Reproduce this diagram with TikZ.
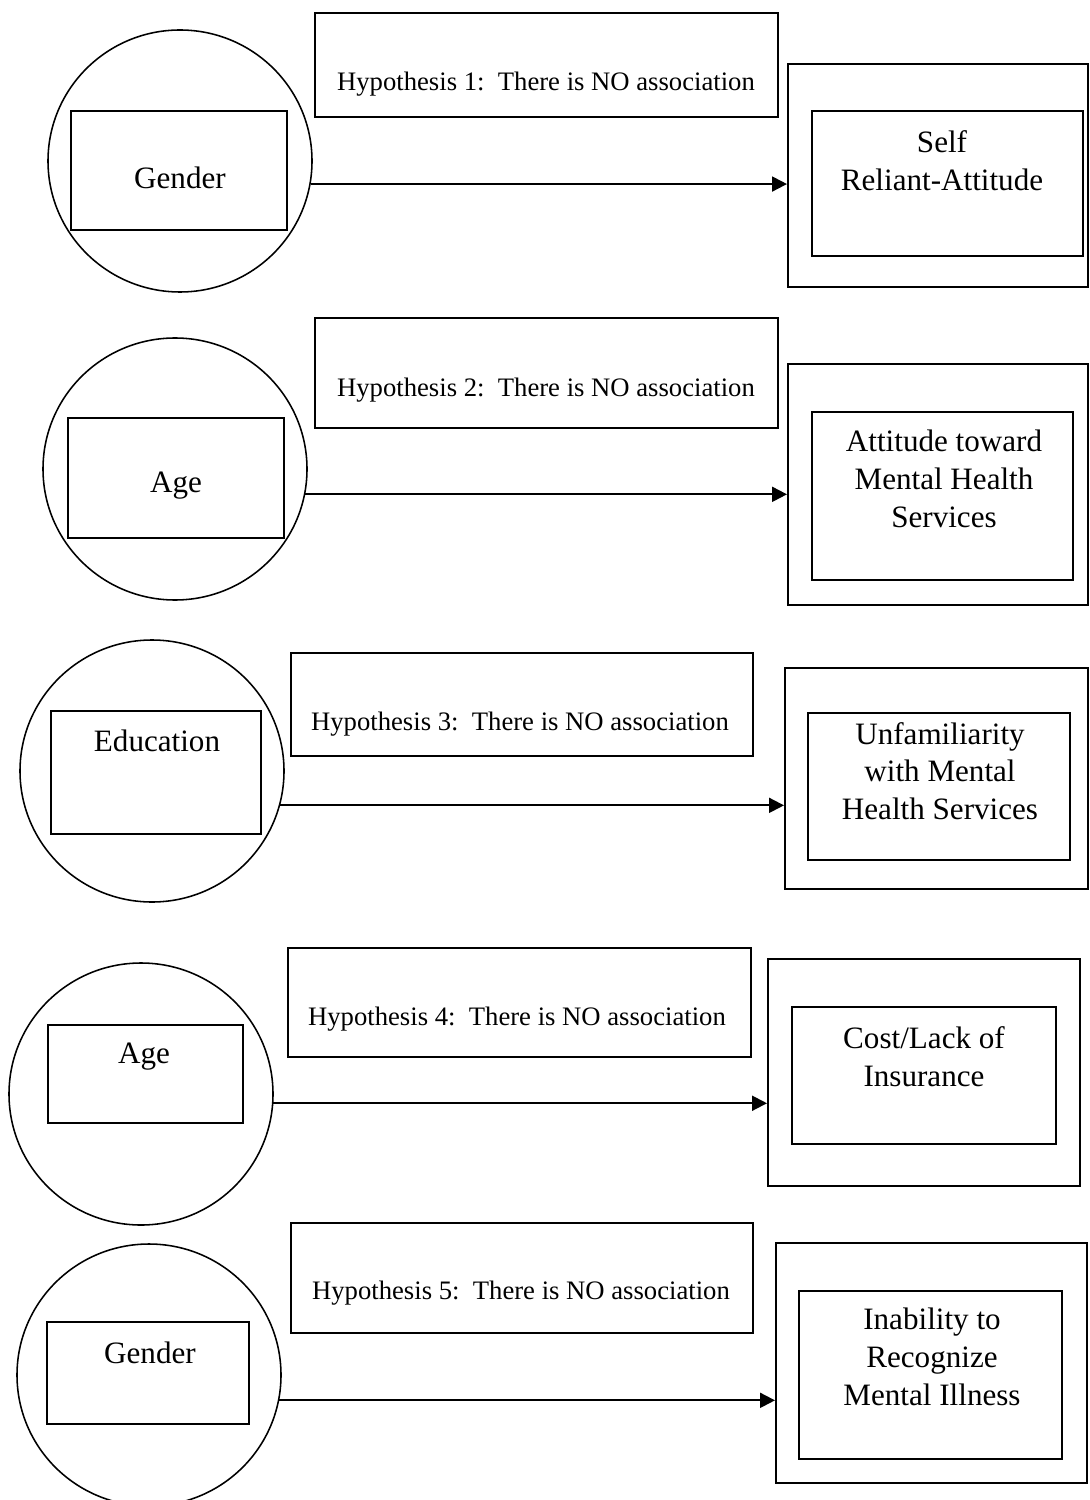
\documentclass[tikz,border=0pt]{standalone}
\usepackage{fontspec}
\setmainfont{Liberation Serif}
\usetikzlibrary{shapes.geometric,arrows.meta,fit}
\begin{document}
\begin{tikzpicture}[x=0.45pt,y=-0.45pt,
  box/.style={draw,line width=0.9pt,inner sep=0pt},
  oval/.style={draw,ellipse,line width=0.7pt,inner sep=0pt,minimum width={264*0.45pt},minimum height={262*0.45pt}},
  hyp/.style={font=\fontsize{12}{14}\selectfont,inner sep=0pt},
  lbl/.style={font=\fontsize{14}{17}\selectfont,align=center,inner sep=0pt},
  arr/.style={line width=0.9pt,-{Triangle[length=6.75pt,width=6.75pt]}}]
\useasboundingbox (0,0) rectangle (1090,1500);

% ---------- Group 1 ----------
\node[oval] (e1) at (180,161) {};
\node[box,fit={(71,111) (287,230)}] (l1) {};
\node[lbl] (lt1) at (180,178) {Gender};
\node[box,fit={(315,13) (778,117)}] (h1) {};
\node[hyp] (ht1) at (546,84) {Hypothesis 1:\ \ There is NO association};
\node[box,fit={(788,64) (1088,287)}] (o1) {};
\node[box,fit={(812,111) (1083,256)}] (i1) {};
\node[lbl] (it1) at (942,161) {Self\\Reliant-Attitude};
\draw[arr] (e1.-10.6) -- (o1.west |- e1.-10.6);

% ---------- Group 2 ----------
\node[oval] (e2) at (175,469) {};
\node[box,fit={(68,418) (284,538)}] (l2) {};
\node[lbl] (lt2) at (176,486) {Age};
\node[box,fit={(315,318) (778,428)}] (h2) {};
\node[hyp] (ht2) at (546,390) {Hypothesis 2:\ \ There is NO association};
\node[box,fit={(788,364) (1088,605)}] (o2) {};
\node[box,fit={(812,412) (1073,580)}] (i2) {};
\node[lbl] (it2) at (944,479) {Attitude toward\\Mental Health\\Services};
\draw[arr] (e2.-11) -- (o2.west |- e2.-11);

% ---------- Group 3 ----------
\node[oval] (e3) at (152,771) {};
\node[box,fit={(51,711) (261,834)}] (l3) {};
\node[lbl] (lt3) at (157,741) {Education};
\node[box,fit={(291,653) (753,756)}] (h3) {};
\node[hyp] (ht3) at (520,724) {Hypothesis 3:\ \ There is NO association};
\node[box,fit={(785,668) (1088,889)}] (o3) {};
\node[box,fit={(808,713) (1070,860)}] (i3) {};
\node[lbl] (it3) at (940,771) {Unfamiliarity\\with Mental\\Health Services};
\draw[arr] (e3.-15.7) -- (o3.west |- e3.-15.7);

% ---------- Group 4 ----------
\node[oval] (e4) at (141,1094) {};
\node[box,fit={(48,1025) (243,1123)}] (l4) {};
\node[lbl] (lt4) at (144,1057) {Age};
\node[box,fit={(288,948) (751,1057)}] (h4) {};
\node[hyp] (ht4) at (517,1019) {Hypothesis 4:\ \ There is NO association};
\node[box,fit={(768,959) (1080,1186)}] (o4) {};
\node[box,fit={(792,1007) (1056,1144)}] (i4) {};
\node[lbl] (it4) at (924,1057) {Cost/Lack of\\Insurance};
\draw[arr] (e4.-4.8) -- (o4.west |- e4.-4.8);

% ---------- Group 5 ----------
\node[oval] (e5) at (149,1375) {};
\node[box,fit={(47,1322) (249,1424)}] (l5) {};
\node[lbl] (lt5) at (150,1353) {Gender};
\node[box,fit={(291,1223) (753,1333)}] (h5) {};
\node[hyp] (ht5) at (521,1293) {Hypothesis 5:\ \ There is NO association};
\node[box,fit={(776,1243) (1087,1483)}] (o5) {};
\node[box,fit={(799,1291) (1062,1459)}] (i5) {};
\node[lbl] (it5) at (932,1357) {Inability to\\Recognize\\Mental Illness};
\draw[arr] (e5.-11) -- (o5.west |- e5.-11);
\end{tikzpicture}
\end{document}
